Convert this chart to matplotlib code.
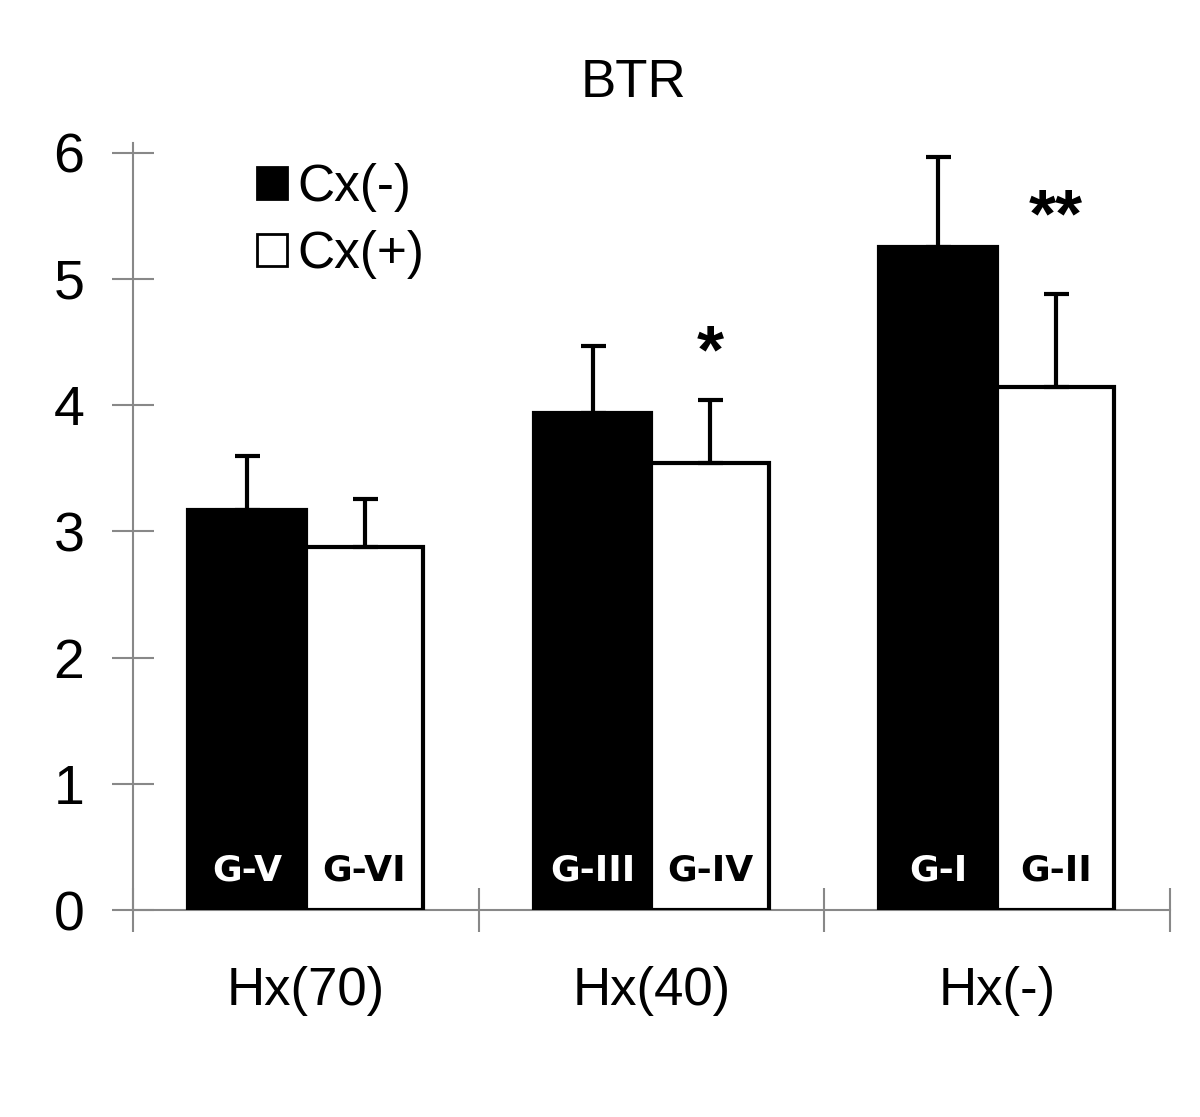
import matplotlib.pyplot as plt
import matplotlib.patches as mpatches
import numpy as np

plt.rcParams['font.family'] = ['Liberation Sans', 'DejaVu Sans']

# dados
grupos = ['Hx(70)', 'Hx(40)', 'Hx(-)']
media_cx_neg = [3.17, 3.94, 5.25]
erro_cx_neg = [0.43, 0.53, 0.72]
media_cx_pos = [2.88, 3.54, 4.14]
erro_cx_pos = [0.38, 0.50, 0.74]
rotulo_neg = ['G-V', 'G-III', 'G-I']
rotulo_pos = ['G-VI', 'G-IV', 'G-II']
signif = ['', '*', '**']

fig = plt.figure(figsize=(12, 11.17), dpi=100)
ax = fig.add_axes([0.1108, 0.1853, 0.864, 0.687])

x = np.arange(len(grupos))
w = 0.34
err_kw = dict(elinewidth=3, capsize=9, capthick=3, ecolor='black')

ax.bar(x - w/2, media_cx_neg, w, color='black', edgecolor='black', linewidth=3,
       yerr=[np.zeros(3), erro_cx_neg], error_kw=err_kw, zorder=3)
ax.bar(x + w/2, media_cx_pos, w, color='white', edgecolor='black', linewidth=3,
       yerr=[np.zeros(3), erro_cx_pos], error_kw=err_kw, zorder=3)

for i in range(len(grupos)):
    ax.text(x[i] - w/2, 0.31, rotulo_neg[i], color='white', fontsize=26, fontweight='bold',
            family='DejaVu Sans', ha='center', va='center', zorder=4)
    ax.text(x[i] + w/2, 0.31, rotulo_pos[i], color='black', fontsize=26, fontweight='bold',
            family='DejaVu Sans', ha='center', va='center', zorder=4)
    if signif[i]:
        topo = media_cx_pos[i] + erro_cx_pos[i]
        ax.text(x[i] + w/2, topo + 0.12 + 0.24*len(signif[i]), signif[i], fontsize=50,
                fontweight='bold', ha='center', va='center')

ax.set_xlim(-0.5, 2.5)
ax.set_ylim(0, 6.08)
ax.set_yticks(range(7))
ax.tick_params(axis='y', direction='inout', length=30, width=1.5, color='#888888',
               labelsize=40, pad=20)
ax.set_xticks([-0.5, 0.5, 1.5, 2.5])
ax.set_xticklabels([])
ax.set_xticks(x, minor=True)
ax.set_xticklabels(grupos, minor=True)
ax.tick_params(axis='x', which='major', direction='inout', length=32, width=1.5, color='#888888')
ax.tick_params(axis='x', which='minor', length=0, labelsize=38, pad=40)

for s in ['top', 'right']:
    ax.spines[s].set_visible(False)
for s in ['left', 'bottom']:
    ax.spines[s].set_color('#888888')
    ax.spines[s].set_linewidth(1.5)

fig.text(0.528, 0.926, 'BTR', fontsize=38, ha='center', va='center')

h1 = mpatches.Patch(facecolor='black', edgecolor='black', linewidth=2)
h2 = mpatches.Patch(facecolor='white', edgecolor='black', linewidth=2)
fig.legend([h1, h2], ['Cx(-)', 'Cx(+)'], loc='upper left',
           bbox_to_anchor=(257/1200, 1 - 163/1117), frameon=False, fontsize=37,
           handlelength=0.58, handleheight=0.58, handletextpad=0.2,
           labelspacing=0.35, borderpad=0, borderaxespad=0)

plt.savefig('out.png', dpi=100)
